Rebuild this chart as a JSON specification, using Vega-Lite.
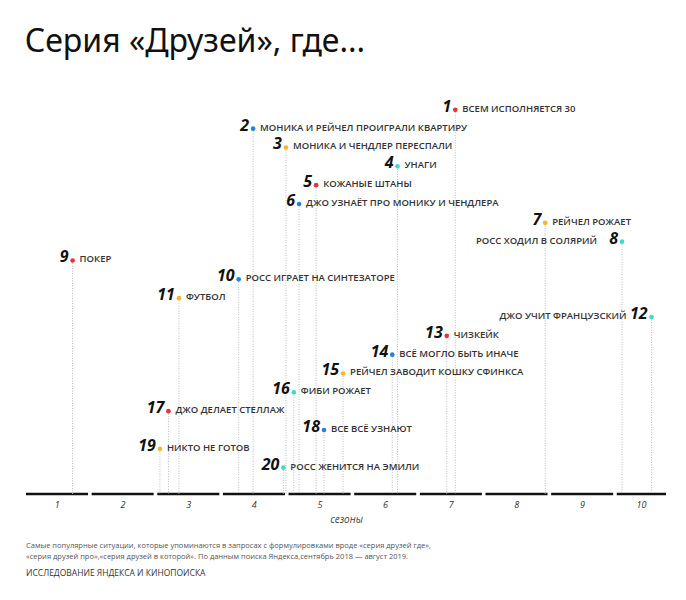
{
  "$schema": "https://vega.github.io/schema/vega-lite/v6.json",
  "background": "white",
  "padding": {"left": 24, "top": 26, "right": 10, "bottom": 10},
  "config": {"view": {"stroke": null}},
  "title": {
    "text": ["Самые популярные ситуации, которые упоминаются в запросах с формулировками вроде «серия друзей где»,", "«серия друзей про»,«серия друзей в которой». По данным поиска Яндекса,сентябрь 2018 — август 2019."],
    "subtitle": "ИССЛЕДОВАНИЕ ЯНДЕКСА И КИНОПОИСКА",
    "orient": "bottom", "anchor": "start", "frame": "group",
    "font": "Open Sans", "fontSize": 7.5, "fontWeight": "normal", "color": "#555", "lineHeight": 11,
    "subtitleFont": "Open Sans", "subtitleFontSize": 8.5, "subtitleColor": "#333", "subtitlePadding": 8,
    "offset": 18
  },
  "vconcat": [
    {
      "title": {"text": "Серия «Друзей», где...", "anchor": "start", "font": "Noto Sans", "fontSize": 32, "fontWeight": "normal", "color": "#111", "offset": 32},
      "width": 640,
      "height": 403,
      "data": {"values": [
        {"rank": 1, "x": 6.54, "label": "ВСЕМ ИСПОЛНЯЕТСЯ 30"},
        {"rank": 2, "x": 3.46, "label": "МОНИКА И РЕЙЧЕЛ ПРОИГРАЛИ КВАРТИРУ"},
        {"rank": 3, "x": 3.96, "label": "МОНИКА И ЧЕНДЛЕР ПЕРЕСПАЛИ"},
        {"rank": 4, "x": 5.66, "label": "УНАГИ"},
        {"rank": 5, "x": 4.42, "label": "КОЖАНЫЕ ШТАНЫ"},
        {"rank": 6, "x": 4.16, "label": "ДЖО УЗНАЁТ ПРО МОНИКУ И ЧЕНДЛЕРА"},
        {"rank": 7, "x": 7.91, "label": "РЕЙЧЕЛ РОЖАЕТ"},
        {"rank": 8, "x": 9.08, "label": "РОСС ХОДИЛ В СОЛЯРИЙ"},
        {"rank": 9, "x": 0.71, "label": "ПОКЕР"},
        {"rank": 10, "x": 3.24, "label": "РОСС ИГРАЕТ НА СИНТЕЗАТОРЕ"},
        {"rank": 11, "x": 2.33, "label": "ФУТБОЛ"},
        {"rank": 12, "x": 9.53, "label": "ДЖО УЧИТ ФРАНЦУЗСКИЙ"},
        {"rank": 13, "x": 6.41, "label": "ЧИЗКЕЙК"},
        {"rank": 14, "x": 5.58, "label": "ВСЁ МОГЛО БЫТЬ ИНАЧЕ"},
        {"rank": 15, "x": 4.83, "label": "РЕЙЧЕЛ ЗАВОДИТ КОШКУ СФИНКСА"},
        {"rank": 16, "x": 4.08, "label": "ФИБИ РОЖАЕТ"},
        {"rank": 17, "x": 2.17, "label": "ДЖО ДЕЛАЕТ СТЕЛЛАЖ"},
        {"rank": 18, "x": 4.54, "label": "ВСЕ ВСЁ УЗНАЮТ"},
        {"rank": 19, "x": 2.04, "label": "НИКТО НЕ ГОТОВ"},
        {"rank": 20, "x": 3.92, "label": "РОСС ЖЕНИТСЯ НА ЭМИЛИ"}
      ]},
      "layer": [
        {
          "data": {"values": [
            {"season": 1, "start": 0, "end": 0.945},
            {"season": 2, "start": 1, "end": 1.945},
            {"season": 3, "start": 2, "end": 2.945},
            {"season": 4, "start": 3, "end": 3.945},
            {"season": 5, "start": 4, "end": 4.945},
            {"season": 6, "start": 5, "end": 5.945},
            {"season": 7, "start": 6, "end": 6.945},
            {"season": 8, "start": 7, "end": 7.945},
            {"season": 9, "start": 8, "end": 8.945},
            {"season": 10, "start": 9, "end": 9.75}
          ]},
          "mark": {"type": "rule", "strokeWidth": 2.5, "color": "#111"},
          "encoding": {
            "x": {"field": "start", "type": "quantitative", "scale": {"domain": [0, 9.75], "nice": false, "zero": false},
              "axis": {"values": [0.47, 1.47, 2.47, 3.47, 4.47, 5.47, 6.47, 7.47, 8.47, 9.37], "labelExpr": "floor(datum.value)+1",
                "domain": false, "ticks": false, "grid": false, "labelFlush": false,
                "labelFont": "Open Sans", "labelFontStyle": "italic", "labelFontSize": 9, "labelColor": "#333", "labelPadding": 6,
                "title": "сезоны", "titleFont": "Open Sans", "titleFontStyle": "italic", "titleFontWeight": "normal", "titleFontSize": 10, "titleColor": "#444", "titlePadding": 5}},
            "x2": {"field": "end"},
            "y": {"datum": 21.4, "type": "quantitative", "scale": {"domain": [0, 21.4], "reverse": true, "nice": false}, "axis": null}
          }
        },
        {
          "mark": {"type": "rule", "color": "#bbb", "strokeDash": [1, 1.5], "strokeWidth": 1},
          "encoding": {
            "x": {"field": "x", "type": "quantitative"},
            "y": {"field": "rank", "type": "quantitative"},
            "y2": {"datum": 21.4}
          }
        },
        {
          "mark": {"type": "circle", "size": 22, "opacity": 1},
          "encoding": {
            "x": {"field": "x", "type": "quantitative"},
            "y": {"field": "rank", "type": "quantitative"},
            "color": {"field": "rank", "type": "ordinal", "legend": null,
              "scale": {"domain": [1,2,3,4,5,6,7,8,9,10,11,12,13,14,15,16,17,18,19,20],
                "range": ["#e0363c","#2b80d6","#f4b82c","#3edcc3","#e0363c","#2b80d6","#f4b82c","#3edcc3","#e0363c","#2b80d6","#f4b82c","#3edcc3","#e0363c","#2b80d6","#f4b82c","#3edcc3","#e0363c","#2b80d6","#f4b82c","#3edcc3"]}}
          }
        },
        {
          "transform": [{"filter": "datum.rank != 8 && datum.rank != 12"}],
          "mark": {"type": "text", "align": "left", "baseline": "middle", "dx": 7, "dy": -1, "font": "Open Sans", "fontSize": 9.5, "fontWeight": 600, "color": "#333"},
          "encoding": {
            "x": {"field": "x", "type": "quantitative"},
            "y": {"field": "rank", "type": "quantitative"},
            "text": {"field": "label"}
          }
        },
        {
          "transform": [{"filter": "datum.rank == 8 || datum.rank == 12"}],
          "mark": {"type": "text", "align": "right", "baseline": "middle", "dx": -25, "dy": -1, "font": "Open Sans", "fontSize": 9.5, "fontWeight": 600, "color": "#333"},
          "encoding": {
            "x": {"field": "x", "type": "quantitative"},
            "y": {"field": "rank", "type": "quantitative"},
            "text": {"field": "label"}
          }
        },
        {
          "mark": {"type": "text", "align": "right", "baseline": "alphabetic", "dx": -4, "dy": 2, "font": "Noto Sans", "fontStyle": "italic", "fontWeight": "bold", "fontSize": 16, "color": "#111"},
          "encoding": {
            "x": {"field": "x", "type": "quantitative"},
            "y": {"field": "rank", "type": "quantitative"},
            "text": {"field": "rank", "type": "quantitative"}
          }
        }
      ]
    }
  ]
}
